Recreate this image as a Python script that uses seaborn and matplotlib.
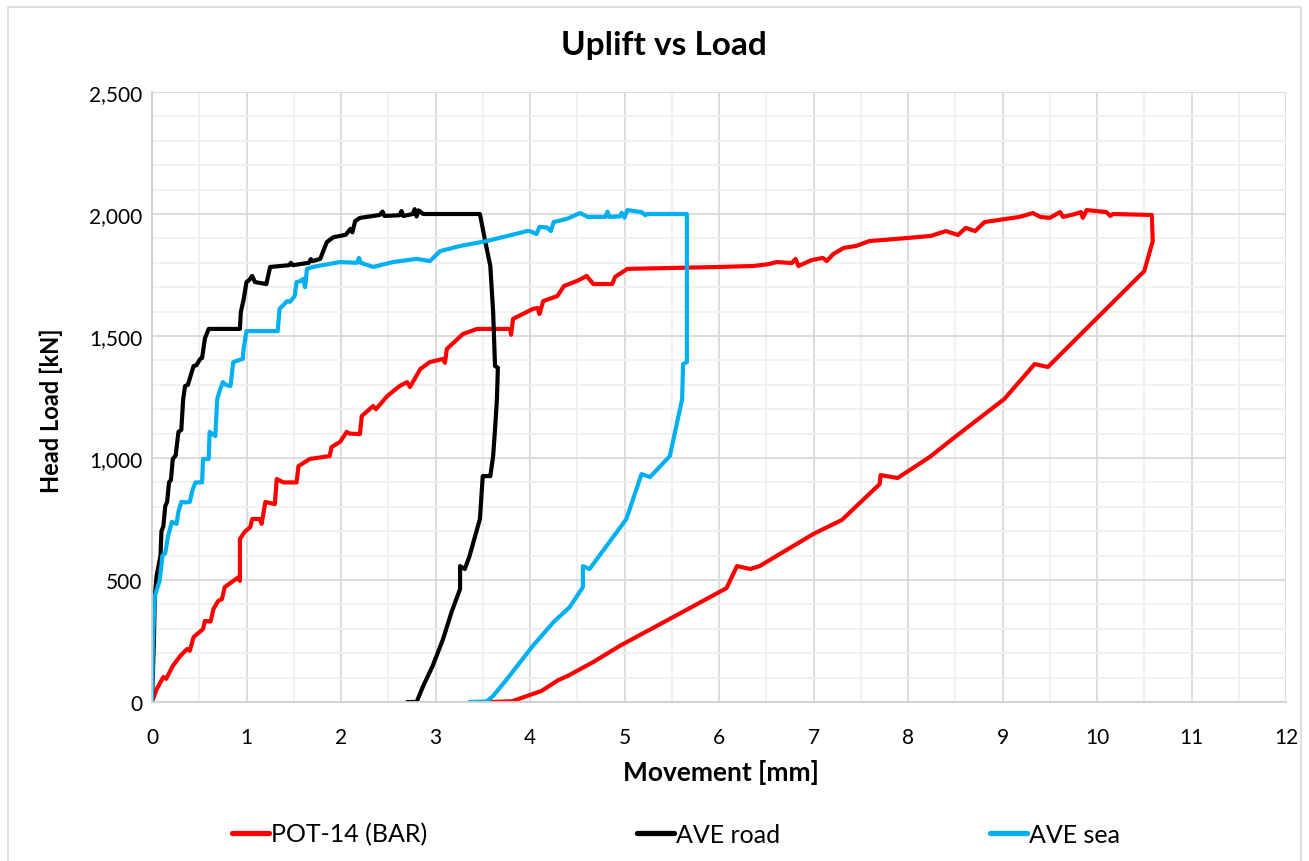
import matplotlib
matplotlib.use("Agg")
import matplotlib.pyplot as plt
from matplotlib.patches import Rectangle
from matplotlib.ticker import MultipleLocator, FuncFormatter
import numpy as np
import pandas as pd
import seaborn as sns

# ---- data: movement [mm] and head load [kN] for each test ----
pot14_mm = [0, 0.05, 0.12, 0.15, 0.22, 0.30, 0.37, 0.40, 0.44, 0.54, 0.56, 0.62, 0.65, 0.70,
            0.74, 0.77, 0.86, 0.91, 0.93, 0.93, 0.98, 1.04, 1.06, 1.14, 1.16, 1.20, 1.30, 1.32,
            1.39, 1.53, 1.55, 1.67, 1.88, 1.90, 1.99, 2.06, 2.09, 2.20, 2.22, 2.34, 2.37, 2.49,
            2.62, 2.70, 2.73, 2.84, 2.94, 3.08, 3.10, 3.12, 3.29, 3.44, 3.79, 3.80, 3.82, 4.03,
            4.08, 4.10, 4.14, 4.29, 4.36, 4.50, 4.60, 4.67, 4.87, 4.90, 5.03, 6.01, 6.37, 6.53,
            6.61, 6.77, 6.81, 6.84, 6.98, 7.10, 7.14, 7.21, 7.32, 7.45, 7.59, 8.00, 8.24, 8.40,
            8.53, 8.61, 8.71, 8.81, 9.18, 9.32, 9.40, 9.50, 9.61, 9.64, 9.77, 9.83, 9.85, 9.89,
            10.10, 10.14, 10.17, 10.58, 10.59, 10.50, 9.48, 9.34, 9.02, 8.47, 8.23, 7.89, 7.71,
            7.70, 7.30, 7.00, 6.43, 6.33, 6.19, 6.08, 5.73, 4.95, 4.67, 4.40, 4.30, 4.12, 4.03,
            3.81, 3.58]
pot14_kn = [0, 53, 102, 95, 148, 189, 217, 210, 266, 299, 332, 330, 381, 414,
            422, 471, 496, 510, 496, 668, 697, 717, 750, 750, 730, 820, 811, 914,
            900, 900, 967, 996, 1008, 1045, 1066, 1107, 1100, 1098, 1172, 1213, 1200, 1254,
            1295, 1311, 1291, 1365, 1393, 1406, 1390, 1447, 1508, 1529, 1529, 1505, 1570, 1611,
            1615, 1590, 1643, 1664, 1705, 1726, 1746, 1713, 1713, 1742, 1775, 1783, 1787, 1795,
            1803, 1799, 1816, 1787, 1811, 1820, 1807, 1836, 1861, 1869, 1889, 1902, 1910, 1930,
            1914, 1943, 1930, 1967, 1988, 2004, 1988, 1984, 2008, 1988, 2000, 2008, 1984, 2016,
            2008, 1992, 2000, 1996, 1889, 1766, 1373, 1385, 1242, 1078, 1004, 918, 930,
            893, 746, 689, 557, 545, 557, 467, 393, 230, 164, 107, 90, 45, 33,
            3, 0]

road_mm = [0, 0.02, 0.03, 0.05, 0.07, 0.09, 0.10, 0.12, 0.14, 0.16, 0.18, 0.20, 0.22, 0.25,
           0.28, 0.31, 0.33, 0.35, 0.38, 0.44, 0.47, 0.51, 0.53, 0.56, 0.60, 0.93, 0.94, 0.97,
           1.00, 1.03, 1.06, 1.09, 1.21, 1.25, 1.45, 1.47, 1.49, 1.57, 1.66, 1.68, 1.70, 1.78,
           1.85, 1.92, 1.99, 2.05, 2.10, 2.12, 2.15, 2.20, 2.41, 2.44, 2.46, 2.62, 2.64, 2.66,
           2.76, 2.78, 2.80, 2.82, 2.87, 3.47, 3.52, 3.58, 3.61, 3.63, 3.66, 3.65, 3.63, 3.61,
           3.58, 3.50, 3.47, 3.36, 3.31, 3.26, 3.26, 3.17, 3.08, 2.97, 2.87, 2.80, 2.70]
road_kn = [0, 250, 434, 520, 560, 600, 700, 720, 803, 820, 900, 910, 996, 1010,
           1107, 1115, 1242, 1295, 1300, 1377, 1380, 1406, 1410, 1490, 1529, 1529, 1598, 1650,
           1721, 1730, 1746, 1721, 1713, 1783, 1790, 1800, 1790, 1795, 1800, 1815, 1807, 1816,
           1885, 1905, 1910, 1915, 1939, 1925, 1971, 1984, 1996, 2010, 1992, 1995, 2012, 1992,
           2000, 2020, 1990, 2015, 2000, 2000, 1900, 1787, 1598, 1377, 1370, 1242, 1119, 1008,
           926, 926, 750, 598, 545, 557, 463, 369, 258, 148, 66, 0, 0]

sea_mm = [0, 0.01, 0.03, 0.05, 0.08, 0.10, 0.11, 0.14, 0.17, 0.21, 0.26, 0.28, 0.31, 0.36,
          0.40, 0.43, 0.46, 0.53, 0.54, 0.60, 0.61, 0.67, 0.69, 0.72, 0.75, 0.78, 0.83, 0.86,
          0.91, 0.96, 0.97, 1.00, 1.33, 1.35, 1.43, 1.46, 1.51, 1.53, 1.57, 1.60, 1.62, 1.64,
          1.70, 1.99, 2.17, 2.19, 2.21, 2.34, 2.55, 2.80, 2.94, 3.05, 3.26, 3.54, 3.97, 4.00,
          4.07, 4.10, 4.18, 4.22, 4.25, 4.39, 4.53, 4.61, 4.80, 4.82, 4.84, 4.95, 4.97, 5.00,
          5.03, 5.18, 5.22, 5.24, 5.66, 5.66, 5.62, 5.61, 5.48, 5.27, 5.18, 5.02, 4.63, 4.56,
          4.56, 4.42, 4.25, 4.03, 3.74, 3.61, 3.54, 3.36]
sea_kn = [0, 250, 434, 460, 496, 560, 600, 610, 680, 738, 730, 780, 820, 818,
          820, 870, 900, 900, 996, 996, 1107, 1090, 1242, 1280, 1311, 1300, 1295, 1393,
          1400, 1406, 1450, 1520, 1520, 1611, 1643, 1640, 1664, 1721, 1725, 1734, 1700, 1775,
          1783, 1803, 1800, 1820, 1800, 1783, 1803, 1816, 1807, 1848, 1869, 1889, 1930, 1930,
          1918, 1947, 1945, 1930, 1967, 1980, 2004, 1988, 1988, 2010, 1988, 1990, 2005, 1985,
          2016, 2008, 1995, 2000, 2000, 1393, 1385, 1242, 1008, 922, 934, 750, 545, 557,
          471, 389, 328, 230, 86, 25, 2, 0]

series_names = ["POT-14 (BAR)", "AVE road", "AVE sea"]
series_colors = ["#FF0000", "#000000", "#00B0F0"]

frames = []
for name, xs, ys in zip(series_names,
                        [pot14_mm, road_mm, sea_mm],
                        [pot14_kn, road_kn, sea_kn]):
    frames.append(pd.DataFrame({"Movement": xs, "Load": ys, "Series": name,
                                "Step": np.arange(len(xs))}))
df = pd.concat(frames, ignore_index=True)

sns.set_theme(style="white")
plt.rcParams["font.family"] = ["Lato", "DejaVu Sans"]
plt.rcParams["text.color"] = "#000000"

W, H = 1309, 862
fig = plt.figure(figsize=(W / 100, H / 100), dpi=100)
ax = fig.add_axes([152 / W, 1 - 703 / H, (1286 - 152) / W, (703 - 93) / H])

# outer chart frame
fig.patches.append(Rectangle((8 / W, -0.01), (1301 - 8) / W, 1 - 8 / H + 0.01,
                             transform=fig.transFigure, fill=False,
                             edgecolor="#D9D9D9", linewidth=1.2, zorder=0))

sns.lineplot(data=df, x="Movement", y="Load", hue="Series", units="Series",
             estimator=None, sort=False, palette=dict(zip(series_names, series_colors)),
             hue_order=series_names, linewidth=3, ax=ax, legend=False)

ax.set_xlim(0, 12)
ax.set_ylim(0, 2500)
ax.xaxis.set_major_locator(MultipleLocator(1))
ax.xaxis.set_minor_locator(MultipleLocator(0.5))
ax.yaxis.set_major_locator(MultipleLocator(500))
ax.yaxis.set_minor_locator(MultipleLocator(100))
ax.yaxis.set_major_formatter(FuncFormatter(lambda v, p: f"{int(v):,}"))
ax.grid(which="major", color="#D9D9D9", linewidth=1.3, zorder=0)
ax.grid(which="minor", color="#F0F0F0", linewidth=1.3, zorder=0)
ax.set_axisbelow(True)
for side in ["top", "right"]:
    ax.spines[side].set_visible(False)
for side in ["left", "bottom"]:
    ax.spines[side].set_color("#D0D0D0")
    ax.spines[side].set_linewidth(1.3)
ax.tick_params(axis="both", which="both", length=0, labelsize=15, colors="#000000")
ax.tick_params(axis="x", pad=18)
ax.tick_params(axis="y", pad=7)
ax.set_xlabel("")
ax.set_ylabel("")

fig.text(721 / W, 1 - 773 / H, "Movement [mm]", ha="center", va="center",
         fontsize=19, fontweight="bold", color="#000000")
fig.text(51 / W, 1 - 411 / H, "Head Load [kN]", ha="center", va="center",
         rotation=90, fontsize=17, fontweight="bold", color="#000000")
fig.text(664 / W, 1 - 45 / H, "Uplift vs Load", ha="center", va="center",
         fontsize=24, fontweight="bold", color="#000000")

handles = [plt.Line2D([], [], color=c, linewidth=3.8) for c in series_colors]
leg = fig.legend(handles, series_names, loc="center left",
                 bbox_to_anchor=(232 / W, 1 - 835 / H),
                 ncol=3, frameon=False, fontsize=18, handlelength=1.48, handletextpad=0.08,
                 columnspacing=8.4, borderaxespad=0, borderpad=0)
for t in leg.get_texts():
    t.set_color("#000000")

fig.savefig("out.png", dpi=100)
